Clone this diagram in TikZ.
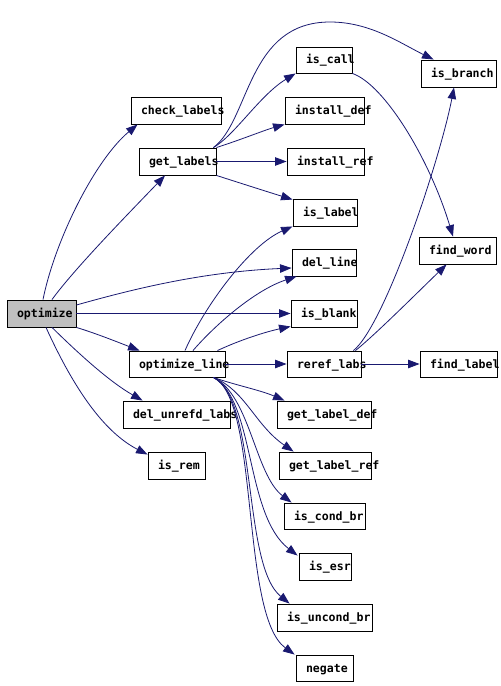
\documentclass[tikz,border=0pt]{standalone}
\usepackage{fontspec}
\newfontfamily\dvmono{DejaVu Sans Mono}
\usetikzlibrary{arrows.meta}
\definecolor{edgec}{HTML}{191970}
\definecolor{rootfill}{HTML}{BFBFBF}
\newcommand\bxt[2]{\makebox[#1bp][l]{\hspace{10bp}\raisebox{-1.5bp}[7bp][2bp]{#2}}}
\begin{document}
\begin{tikzpicture}[x=1bp,y=-1bp,
  fn/.style={draw=black,line width=0.9bp,minimum height=27bp,inner sep=0pt,
    font=\dvmono\bfseries\fontsize{11.6}{12}\selectfont},
  root/.style={fn,fill=rootfill},
  e/.style={draw=edgec,line width=0.8bp,-{Triangle[length=11.5bp,width=8.5bp]},fill=none}]
\useasboundingbox (0,0) rectangle (501,686);
% nodes
\node[root] (opt) at (41.5,313.5) {\bxt{69}{optimize}};
\node[fn] (chk) at (176,110.5) {\bxt{90}{check\_labels}};
\node[fn] (gl) at (177.5,161.5) {\bxt{77}{get\_labels}};
\node[fn,minimum height=26bp] (call) at (324,60) {\bxt{56}{is\_call}};
\node[fn] (br) at (458.5,73.5) {\bxt{75}{is\_branch}};
\node[fn] (idef) at (324.5,110.5) {\bxt{79}{install\_def}};
\node[fn] (iref) at (325.5,161.5) {\bxt{77}{install\_ref}};
\node[fn] (lab) at (325,212.5) {\bxt{64}{is\_label}};
\node[fn,minimum height=26bp] (ol) at (177,364) {\bxt{96}{optimize\_line}};
\node[fn] (dul) at (176.5,414.5) {\bxt{107}{del\_unrefd\_labs}};
\node[fn] (rem) at (176.5,465.5) {\bxt{57}{is\_rem}};
\node[fn] (dl) at (324,262.5) {\bxt{64}{del\_line}};
\node[fn] (blank) at (324,313.5) {\bxt{66}{is\_blank}};
\node[fn,minimum height=26bp] (rr) at (324,364) {\bxt{74}{reref\_labs}};
\node[fn] (fw) at (457.5,250.5) {\bxt{77}{find\_word}};
\node[fn,minimum height=26bp] (fl) at (458.5,364) {\bxt{77}{find\_label}};
\node[fn] (gld) at (324,414.5) {\bxt{94}{get\_label\_def}};
\node[fn] (glr) at (325,465.5) {\bxt{92}{get\_label\_ref}};
\node[fn,minimum height=26bp] (cbr) at (324.5,516) {\bxt{81}{is\_cond\_br}};
\node[fn] (esr) at (325,566.5) {\bxt{52}{is\_esr}};
\node[fn] (ubr) at (324.5,617.5) {\bxt{95}{is\_uncond\_br}};
\node[fn,minimum height=26bp] (neg) at (324.5,668) {\bxt{57}{negate}};
% edges from optimize
\draw[e] ([shift={(1.5,0)}]opt.north) .. controls (55,240) and (95,160) .. ([shift={(7,0)}]chk.south west);
\draw[e] ([shift={(10.5,0)}]opt.north) .. controls (75,268) and (130,212) .. ([shift={(-12.5,0)}]gl.south);
\draw[e] ([shift={(0,-8.5)}]opt.east) .. controls (130,290) and (200,272) .. ([shift={(0,5.5)}]dl.west);
\draw[e] (opt.east) -- (blank.west);
\draw[e] (opt.south east) .. controls (95,333) and (120,343) .. ([shift={(11,0)}]ol.north west);
\draw[e] ([shift={(10.5,0)}]opt.south) .. controls (80,355) and (110,382) .. ([shift={(20,0)}]dul.north west);
\draw[e] ([shift={(4.5,0)}]opt.south) .. controls (70,380) and (100,430) .. ([shift={(0,3)}]rem.north west);
% edges from get_labels
\draw[e] ([shift={(-3,0)}]gl.north east) .. controls (235,135) and (260,95) .. (call.south west);
\draw[e] ([shift={(-3,0)}]gl.north east) .. controls (250,120) and (247,22) .. (330,22)
  .. controls (370,22) and (400,43) .. ([shift={(13,0)}]br.north west);
\draw[e] (gl.north east) .. controls (240,140) and (265,130) .. (idef.south west);
\draw[e] (gl.east) -- (iref.west);
\draw[e] (gl.south east) .. controls (240,183) and (265,191) .. ([shift={(0,1)}]lab.north west);
% edge from is_call
\draw[e] (call.south east) .. controls (385,85) and (430,160) .. ([shift={(-4.5,0)}]fw.north);
% edges from reref_labs
\draw[e] ([shift={(-8,0)}]rr.north east) .. controls (385,325) and (440,160) .. ([shift={(-4.5,0)}]br.south);
\draw[e] ([shift={(-6,0)}]rr.north east) .. controls (375,335) and (420,290) .. ([shift={(28,0)}]fw.south west);
\draw[e] (rr.east) -- (fl.west);
% edges from optimize_line
\draw[e] ([shift={(8,0)}]ol.north) .. controls (205,305) and (250,245) .. (lab.south west);
\draw[e] ([shift={(16,0)}]ol.north) .. controls (215,325) and (255,290) .. ([shift={(5,0)}]dl.south west);
\draw[e] ([shift={(-8,0)}]ol.north east) .. controls (240,340) and (265,332) .. ([shift={(0,-1)}]blank.south west);
\draw[e] (ol.east) -- (rr.west);
\draw[e] ([shift={(-12,0)}]ol.south east) .. controls (235,385) and (260,390) .. ([shift={(8,0)}]gld.north west);
\draw[e] ([shift={(-12,0)}]ol.south east) .. controls (245,390) and (255,425) .. ([shift={(15,0)}]glr.north west);
\draw[e] ([shift={(-12,0)}]ol.south east) .. controls (250,395) and (255,475) .. ([shift={(8,0)}]cbr.north west);
\draw[e] ([shift={(-12,0)}]ol.south east) .. controls (255,400) and (245,515) .. ([shift={(-1,3)}]esr.north west);
\draw[e] ([shift={(-12,0)}]ol.south east) .. controls (258,400) and (242,565) .. ([shift={(13,0)}]ubr.north west);
\draw[e] ([shift={(-12,0)}]ol.south east) .. controls (260,400) and (240,615) .. ([shift={(-1,0)}]neg.north west);
\end{tikzpicture}
\end{document}
